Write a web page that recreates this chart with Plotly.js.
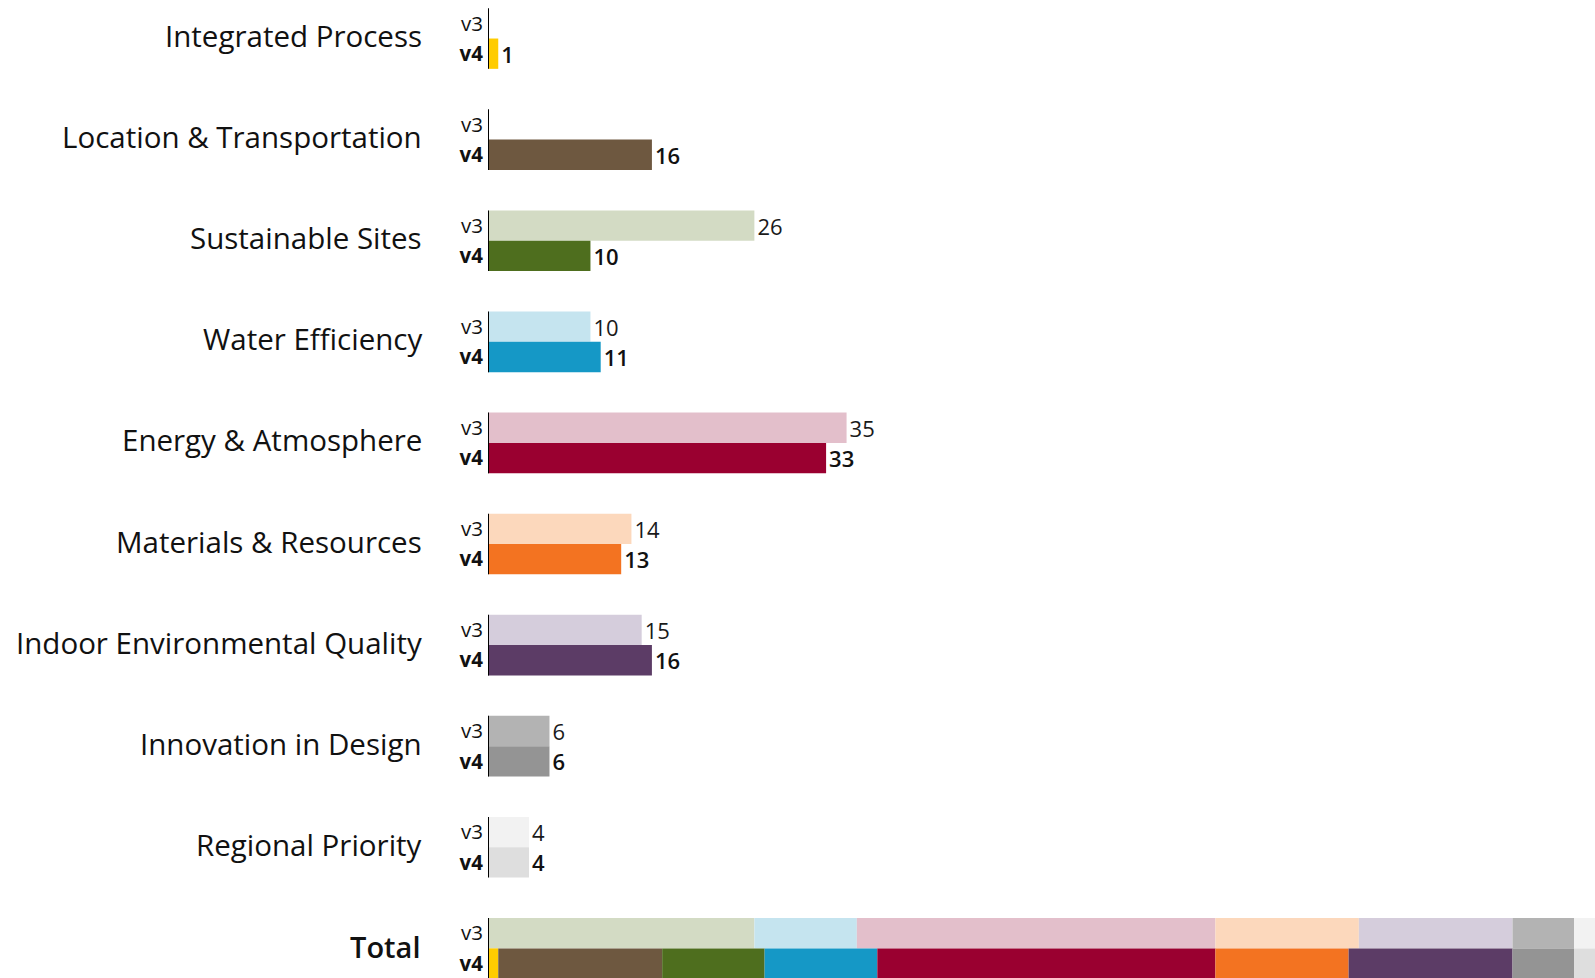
<!DOCTYPE html>
<html>
<head>
<meta charset="utf-8">
<script src="https://cdn.plot.ly/plotly-3.0.1.min.js"></script>
<style>
  html, body { margin: 0; padding: 0; background: #ffffff; }
  #chart { width: 1595px; height: 978px; }
</style>
</head>
<body>
<div id="chart"></div>
<script>
// ---- data ----
const categories = ["Integrated Process", "Location & Transportation", "Sustainable Sites",
  "Water Efficiency", "Energy & Atmosphere", "Materials & Resources",
  "Indoor Environmental Quality", "Innovation in Design", "Regional Priority"];
const totalLabel = "Total";
const v3Values = [null, null, 26, 10, 35, 14, 15, 6, 4];
const v4Values = [1, 16, 10, 11, 33, 13, 16, 6, 4];
const versionLabels = ["v3", "v4"];
const v3Colors = ["#F2F2F2", "#F2F2F2", "#D3DBC4", "#C5E4EF", "#E3BFCB", "#FCD8BC", "#D5CDDC", "#B3B3B3", "#F2F2F2"];
const v4Colors = ["#FFCC00", "#6E5840", "#4E6E1E", "#1598C6", "#9A0030", "#F37321", "#5C3C66", "#949494", "#DEDEDE"];

// ---- layout helpers ----
const FONT = "'Open Sans', 'Liberation Sans', sans-serif";
const half = 0.15;   // half bar height in category units
const n = categories.length;
const catPos = categories.map((_, i) => i);
const totalPos = n;

const traces = [];
// v3 bars
traces.push({
  type: "bar", orientation: "h",
  x: v3Values, y: catPos.map(p => p - half), width: 2 * half, base: 0,
  marker: { color: v3Colors, line: { width: 0 } },
  text: v3Values.map(v => v == null ? "" : String(v)),
  textposition: "outside", cliponaxis: false,
  textfont: { family: FONT, size: 22, color: "#1a1a1a", weight: 400 },
  hoverinfo: "skip", showlegend: false
});
// v4 bars
traces.push({
  type: "bar", orientation: "h",
  x: v4Values, y: catPos.map(p => p + half), width: 2 * half, base: 0,
  marker: { color: v4Colors, line: { width: 0 } },
  text: v4Values.map(v => String(v)),
  textposition: "outside", cliponaxis: false,
  textfont: { family: FONT, size: 22, color: "#111", weight: 600 },
  hoverinfo: "skip", showlegend: false
});
// total stacked rows
function cumBase(vals) {
  const b = []; let s = 0;
  vals.forEach(v => { b.push(s); s += (v || 0); });
  return b;
}
const v3Base = cumBase(v3Values);
const v4Base = cumBase(v4Values);
traces.push({
  type: "bar", orientation: "h",
  x: v3Values.map(v => v || 0), base: v3Base,
  y: v3Values.map(() => totalPos - half), width: 2 * half,
  marker: { color: v3Colors, line: { width: 0 } },
  hoverinfo: "skip", showlegend: false
});
traces.push({
  type: "bar", orientation: "h",
  x: v4Values, base: v4Base,
  y: v4Values.map(() => totalPos + half), width: 2 * half,
  marker: { color: v4Colors, line: { width: 0 } },
  hoverinfo: "skip", showlegend: false
});

// tick labels v3/v4
const allPos = catPos.concat([totalPos]);
const tickvals = [], ticktext = [];
allPos.forEach(p => {
  tickvals.push(p - half); ticktext.push(versionLabels[0]);
  tickvals.push(p + half); ticktext.push("<b>" + versionLabels[1] + "</b>");
});

// category annotations
const annotations = categories.map((c, i) => ({
  xref: "paper", yref: "y", x: 0, y: i, xanchor: "right", yanchor: "middle",
  xshift: -64, yshift: 3, text: c, showarrow: false,
  font: { family: FONT, size: 29.5, color: "#111" }
}));
annotations.push({
  xref: "paper", yref: "y", x: 0, y: totalPos, xanchor: "right", yanchor: "middle",
  xshift: -66, yshift: 2, text: totalLabel, showarrow: false,
  font: { family: FONT, size: 29, color: "#111", weight: 600 }
});

// axis line segments per group
const shapes = allPos.map(p => ({
  type: "line", xref: "x", yref: "y", x0: 0, x1: 0, y0: p - 2 * half, y1: p + 2 * half,
  line: { color: "#000", width: 2 }
}));

const layout = {
  width: 1595, height: 978,
  margin: { l: 488, r: 0, t: 0, b: 0, pad: 0 },
  paper_bgcolor: "#ffffff", plot_bgcolor: "#ffffff",
  barmode: "overlay",
  showlegend: false,
  xaxis: { range: [0, 108.05], showgrid: false, zeroline: false, showticklabels: false, showline: false, ticks: "" },
  yaxis: {
    range: [9.293, -0.381], showgrid: false, zeroline: false, showline: false,
    tickmode: "array", tickvals: tickvals, ticktext: ticktext, ticks: "",
    ticklabelstandoff: 4,
    tickfont: { family: FONT, size: 20.5, color: "#111" }
  },
  annotations: annotations,
  shapes: shapes,
  font: { family: FONT }
};

Plotly.newPlot("chart", traces, layout, { displayModeBar: false, staticPlot: true });
</script>
</body>
</html>
